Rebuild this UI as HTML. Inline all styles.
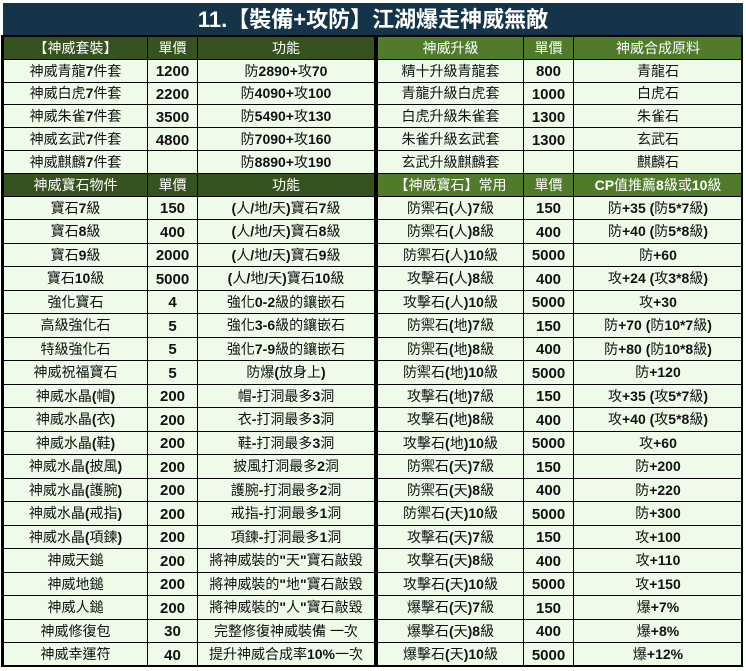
<!DOCTYPE html>
<html><head><meta charset="utf-8"><style>
body{margin:0;width:746px;height:671px;background:#fff;position:relative;overflow:hidden;font-family:"Liberation Sans","Noto Sans CJK TC",sans-serif;}
#title{position:absolute;left:3px;top:3px;width:740px;height:33px;background:#15344a;color:#fff;font-weight:bold;font-size:22px;line-height:33px;text-align:center;}
table{position:absolute;top:36px;border-collapse:collapse;table-layout:fixed;background:#eefbe9;}
td{border:1px solid #000;text-align:center;vertical-align:middle;font-size:14px;line-height:16px;color:#111;padding:0;white-space:nowrap;overflow:hidden;}
tr.h td{color:#fff;font-size:14px;}
#L{left:3px;width:372px;} #L tr.h td{background:#35521f;}
#R{left:377px;width:366px;} #R tr.h td{background:#4f7b2a;}
tr.a td{height:21.8px;} tr.b td{height:22.5px;}
td b{font-weight:bold;}
td.p{font-weight:bold;font-size:15px;padding-top:3px;}
tr.a td.p{height:18.8px;} tr.b td.p{height:19.5px;}
#border{position:absolute;left:1px;top:35px;width:742px;height:632px;border:2px solid #000;box-sizing:border-box;pointer-events:none}
#mid{position:absolute;left:374px;top:36px;width:3px;height:631px;background:#000;}
</style></head><body>
<div id="title">11.【裝備+攻防】江湖爆走神威無敵</div>
<table id="L"><colgroup><col style="width:144px"><col style="width:50px"><col></colgroup>
<tr class="h a"><td>【神威套裝】</td><td>單價</td><td>功能</td></tr>
<tr class="a"><td>神威青龍7件套</td><td class="p">1200</td><td>防2890+攻70</td></tr>
<tr class="a"><td>神威白虎7件套</td><td class="p">2200</td><td>防4090+攻100</td></tr>
<tr class="a"><td>神威朱雀7件套</td><td class="p">3500</td><td>防5490+攻130</td></tr>
<tr class="a"><td>神威玄武7件套</td><td class="p">4800</td><td>防7090+攻160</td></tr>
<tr class="a"><td>神威麒麟7件套</td><td class="p"></td><td>防8890+攻190</td></tr>
<tr class="h a"><td>神威寶石物件</td><td>單價</td><td>功能</td></tr>
<tr class="b"><td>寶石7級</td><td class="p">150</td><td>(人/地/天)寶石7級</td></tr>
<tr class="b"><td>寶石8級</td><td class="p">400</td><td>(人/地/天)寶石8級</td></tr>
<tr class="b"><td>寶石9級</td><td class="p">2000</td><td>(人/地/天)寶石9級</td></tr>
<tr class="b"><td>寶石10級</td><td class="p">5000</td><td>(人/地/天)寶石10級</td></tr>
<tr class="b"><td>強化寶石</td><td class="p">4</td><td>強化0-2級的鑲嵌石</td></tr>
<tr class="b"><td>高級強化石</td><td class="p">5</td><td>強化3-6級的鑲嵌石</td></tr>
<tr class="b"><td>特級強化石</td><td class="p">5</td><td>強化7-9級的鑲嵌石</td></tr>
<tr class="b"><td>神威祝福寶石</td><td class="p">5</td><td>防爆(放身上)</td></tr>
<tr class="b"><td>神威水晶(帽)</td><td class="p">200</td><td>帽-打洞最多3洞</td></tr>
<tr class="b"><td>神威水晶(衣)</td><td class="p">200</td><td>衣-打洞最多3洞</td></tr>
<tr class="b"><td>神威水晶(鞋)</td><td class="p">200</td><td>鞋-打洞最多3洞</td></tr>
<tr class="b"><td>神威水晶(披風)</td><td class="p">200</td><td>披風打洞最多2洞</td></tr>
<tr class="b"><td>神威水晶(護腕)</td><td class="p">200</td><td>護腕-打洞最多2洞</td></tr>
<tr class="b"><td>神威水晶(戒指)</td><td class="p">200</td><td>戒指-打洞最多1洞</td></tr>
<tr class="b"><td>神威水晶(項鍊)</td><td class="p">200</td><td>項鍊-打洞最多1洞</td></tr>
<tr class="b"><td>神威天鎚</td><td class="p">200</td><td>將神威裝的"天"寶石敲毀</td></tr>
<tr class="b"><td>神威地鎚</td><td class="p">200</td><td>將神威裝的"地"寶石敲毀</td></tr>
<tr class="b"><td>神威人鎚</td><td class="p">200</td><td>將神威裝的"人"寶石敲毀</td></tr>
<tr class="b"><td>神威修復包</td><td class="p">30</td><td>完整修復神威裝備 一次</td></tr>
<tr class="b"><td>神威幸運符</td><td class="p">40</td><td>提升神威合成率10%一次</td></tr>
</table>
<table id="R"><colgroup><col style="width:146px"><col style="width:50px"><col></colgroup>
<tr class="h a"><td>神威升級</td><td>單價</td><td>神威合成原料</td></tr>
<tr class="a"><td>精十升級青龍套</td><td class="p">800</td><td>青龍石</td></tr>
<tr class="a"><td>青龍升級白虎套</td><td class="p">1000</td><td>白虎石</td></tr>
<tr class="a"><td>白虎升級朱雀套</td><td class="p">1300</td><td>朱雀石</td></tr>
<tr class="a"><td>朱雀升級玄武套</td><td class="p">1300</td><td>玄武石</td></tr>
<tr class="a"><td>玄武升級麒麟套</td><td class="p"></td><td>麒麟石</td></tr>
<tr class="h a"><td>【神威寶石】常用</td><td>單價</td><td>CP值推薦8級或10級</td></tr>
<tr class="b"><td>防禦石(人)7級</td><td class="p">150</td><td>防+35 (防5*7級)</td></tr>
<tr class="b"><td>防禦石(人)8級</td><td class="p">400</td><td>防+40 (防5*8級)</td></tr>
<tr class="b"><td>防禦石(人)10級</td><td class="p">5000</td><td>防+60</td></tr>
<tr class="b"><td>攻擊石(人)8級</td><td class="p">400</td><td>攻+24 (攻3*8級)</td></tr>
<tr class="b"><td>攻擊石(人)10級</td><td class="p">5000</td><td>攻+30</td></tr>
<tr class="b"><td>防禦石(地)7級</td><td class="p">150</td><td>防+70 (防10*7級)</td></tr>
<tr class="b"><td>防禦石(地)8級</td><td class="p">400</td><td>防+80 (防10*8級)</td></tr>
<tr class="b"><td>防禦石(地)10級</td><td class="p">5000</td><td>防+120</td></tr>
<tr class="b"><td>攻擊石(地)7級</td><td class="p">150</td><td>攻+35 (攻5*7級)</td></tr>
<tr class="b"><td>攻擊石(地)8級</td><td class="p">400</td><td>攻+40 (攻5*8級)</td></tr>
<tr class="b"><td>攻擊石(地)10級</td><td class="p">5000</td><td>攻+60</td></tr>
<tr class="b"><td>防禦石(天)7級</td><td class="p">150</td><td>防+200</td></tr>
<tr class="b"><td>防禦石(天)8級</td><td class="p">400</td><td>防+220</td></tr>
<tr class="b"><td>防禦石(天)10級</td><td class="p">5000</td><td>防+300</td></tr>
<tr class="b"><td>攻擊石(天)7級</td><td class="p">150</td><td>攻+100</td></tr>
<tr class="b"><td>攻擊石(天)8級</td><td class="p">400</td><td>攻+110</td></tr>
<tr class="b"><td>攻擊石(天)10級</td><td class="p">5000</td><td>攻+150</td></tr>
<tr class="b"><td>爆擊石(天)7級</td><td class="p">150</td><td>爆+7%</td></tr>
<tr class="b"><td>爆擊石(天)8級</td><td class="p">400</td><td>爆+8%</td></tr>
<tr class="b"><td>爆擊石(天)10級</td><td class="p">5000</td><td>爆+12%</td></tr>
</table>
<div id="mid"></div>
<div id="border"></div>
<script>
document.querySelectorAll('td:not(.p)').forEach(function(td){
 if(td.parentNode.classList.contains('h')&&td.textContent.indexOf('CP')<0)return;
 td.innerHTML=td.textContent.replace(/[A-Za-z0-9+\-*%()\/" ]+/g,function(m){return '<b>'+m+'</b>';});
});
</script>
</body></html>
